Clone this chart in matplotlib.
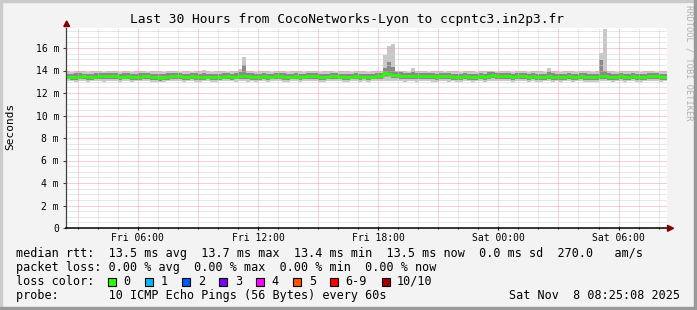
import numpy as np
import matplotlib.pyplot as plt
from matplotlib.patches import Polygon, Rectangle

# Values (one bin = 12 minutes, 150 bins = 30 h)
title = "Last 30 Hours from CocoNetworks-Lyon to ccpntc3.in2p3.fr"
start_hour = 2 + 25 / 60 + 8 / 3600   # Fri 02:25:08
bin_hours = 0.2

median_ms = [
    13.45, 13.45, 13.42, 13.45, 13.48, 13.45, 13.42, 13.45, 13.50, 13.52,
    13.52, 13.50, 13.48, 13.45, 13.45, 13.48, 13.45, 13.42, 13.45, 13.48,
    13.48, 13.45, 13.40, 13.35, 13.42, 13.45, 13.48, 13.50, 13.48, 13.45,
    13.45, 13.48, 13.45, 13.42, 13.45, 13.45, 13.42, 13.40, 13.45, 13.45,
    13.48, 13.45, 13.45, 13.50, 13.55, 13.48, 13.45, 13.42, 13.45, 13.48,
    13.45, 13.45, 13.48, 13.50, 13.45, 13.42, 13.45, 13.48, 13.45, 13.45,
    13.48, 13.50, 13.48, 13.45, 13.42, 13.45, 13.48, 13.50, 13.45, 13.45,
    13.42, 13.45, 13.48, 13.45, 13.45, 13.42, 13.45, 13.48, 13.50, 13.75,
    13.70, 13.62, 13.58, 13.55, 13.55, 13.52, 13.50, 13.50, 13.48, 13.48,
    13.50, 13.48, 13.45, 13.48, 13.50, 13.48, 13.45, 13.42, 13.45, 13.48,
    13.45, 13.42, 13.45, 13.48, 13.40, 13.55, 13.60, 13.52, 13.55, 13.50,
    13.48, 13.45, 13.48, 13.50, 13.48, 13.45, 13.48, 13.45, 13.42, 13.45,
    13.48, 13.45, 13.45, 13.42, 13.45, 13.48, 13.45, 13.45, 13.48, 13.45,
    13.42, 13.40, 13.45, 13.48, 13.50, 13.45, 13.42, 13.45, 13.48, 13.45,
    13.45, 13.48, 13.45, 13.42, 13.45, 13.48, 13.50, 13.48, 13.45, 13.45,
]

# outer smoke (slowest / fastest ping of each bin)
smoke_hi = [
    13.92, 13.90, 13.92, 13.95, 13.92, 13.90, 13.92, 13.95, 13.92, 13.90,
    13.92, 13.95, 13.92, 13.90, 13.98, 13.92, 13.90, 13.92, 13.95, 13.92,
    13.90, 13.92, 13.95, 13.92, 13.90, 13.92, 13.92, 13.95, 13.90, 13.92,
    13.92, 13.90, 13.95, 13.92, 14.05, 13.92, 13.90, 13.92, 13.95, 13.92,
    13.90, 13.92, 13.95, 14.10, 15.20, 13.95, 13.92, 13.90, 13.92, 13.95,
    13.92, 13.90, 13.92, 13.95, 13.92, 13.90, 13.92, 13.95, 13.92, 13.90,
    13.92, 13.95, 13.92, 13.90, 13.92, 13.95, 13.92, 13.90, 13.92, 13.95,
    13.92, 13.90, 13.92, 13.95, 13.92, 13.90, 13.92, 13.98, 13.95, 15.40,
    16.20, 16.35, 14.00, 13.95, 13.92, 13.90, 14.25, 13.92, 13.95, 13.92,
    13.90, 13.92, 13.95, 13.92, 13.90, 13.92, 13.95, 13.92, 13.90, 13.92,
    13.95, 13.92, 13.90, 13.92, 13.95, 13.98, 13.92, 13.90, 13.92, 13.95,
    13.92, 13.90, 13.92, 13.95, 13.92, 13.90, 13.92, 13.95, 13.92, 13.90,
    14.25, 13.95, 13.92, 13.90, 13.92, 13.95, 13.92, 13.90, 13.92, 13.95,
    13.92, 13.90, 13.92, 15.60, 17.70, 13.95, 13.92, 13.90, 13.92, 13.95,
    13.92, 13.98, 13.92, 13.90, 13.92, 13.95, 13.92, 13.90, 13.92, 13.92,
]
smoke_lo = [
    13.05, 13.08, 13.02, 13.05, 13.05, 13.00, 13.05, 13.08, 13.05, 13.02,
    13.05, 13.05, 13.08, 13.02, 13.05, 13.05, 13.00, 13.05, 13.05, 13.08,
    13.05, 13.02, 13.00, 12.98, 13.02, 13.05, 13.05, 13.08, 13.05, 13.02,
    13.05, 13.05, 13.02, 13.00, 13.05, 13.05, 13.02, 13.00, 13.05, 13.05,
    13.08, 13.05, 13.02, 13.05, 13.05, 13.02, 13.05, 13.00, 13.05, 13.05,
    13.02, 13.05, 13.08, 13.05, 13.02, 13.00, 13.05, 13.05, 13.02, 13.05,
    13.05, 13.08, 13.05, 13.02, 13.00, 13.05, 13.05, 13.08, 13.05, 13.02,
    13.00, 13.05, 13.05, 13.02, 13.05, 13.00, 13.05, 13.05, 13.08, 13.10,
    13.10, 13.08, 13.05, 13.05, 13.02, 13.05, 13.05, 13.02, 13.05, 13.05,
    13.05, 13.02, 13.00, 13.05, 13.05, 13.02, 13.05, 13.00, 13.02, 13.05,
    13.05, 13.02, 13.05, 13.05, 12.98, 13.05, 13.08, 13.05, 13.05, 13.05,
    13.05, 13.02, 13.05, 13.08, 13.05, 13.02, 13.05, 13.02, 13.00, 13.05,
    13.05, 13.02, 13.05, 13.00, 13.05, 13.05, 13.02, 13.05, 13.05, 13.02,
    13.00, 12.98, 13.02, 13.05, 13.08, 13.05, 13.00, 13.05, 13.05, 13.02,
    13.05, 13.05, 13.02, 13.00, 13.05, 13.05, 13.08, 13.05, 13.02, 13.05,
]

# inner (denser) smoke
core_hi = [
    13.72, 13.70, 13.75, 13.78, 13.72, 13.70, 13.72, 13.75, 13.78, 13.80,
    13.78, 13.80, 13.75, 13.72, 13.78, 13.75, 13.72, 13.70, 13.75, 13.78,
    13.75, 13.72, 13.70, 13.65, 13.72, 13.75, 13.78, 13.80, 13.75, 13.72,
    13.72, 13.75, 13.78, 13.72, 13.80, 13.72, 13.70, 13.68, 13.72, 13.75,
    13.78, 13.72, 13.75, 13.85, 14.50, 13.80, 13.75, 13.70, 13.72, 13.78,
    13.72, 13.70, 13.75, 13.80, 13.75, 13.70, 13.72, 13.78, 13.72, 13.70,
    13.75, 13.80, 13.78, 13.72, 13.70, 13.72, 13.78, 13.80, 13.72, 13.72,
    13.70, 13.72, 13.78, 13.72, 13.72, 13.70, 13.72, 13.80, 13.82, 14.20,
    14.80, 14.30, 13.90, 13.85, 13.82, 13.80, 13.85, 13.78, 13.78, 13.75,
    13.78, 13.75, 13.72, 13.78, 13.80, 13.75, 13.72, 13.70, 13.72, 13.78,
    13.72, 13.70, 13.72, 13.78, 13.70, 13.85, 13.88, 13.80, 13.82, 13.78,
    13.75, 13.72, 13.78, 13.80, 13.75, 13.72, 13.78, 13.72, 13.70, 13.72,
    13.85, 13.75, 13.72, 13.70, 13.72, 13.78, 13.72, 13.72, 13.78, 13.75,
    13.70, 13.68, 13.72, 14.90, 14.00, 13.75, 13.70, 13.72, 13.78, 13.72,
    13.72, 13.78, 13.72, 13.70, 13.72, 13.78, 13.80, 13.78, 13.72, 13.72,
]
core_lo = [
    13.22, 13.20, 13.18, 13.22, 13.25, 13.20, 13.18, 13.22, 13.25, 13.28,
    13.28, 13.25, 13.22, 13.20, 13.22, 13.25, 13.20, 13.18, 13.20, 13.25,
    13.22, 13.20, 13.15, 13.10, 13.18, 13.20, 13.25, 13.28, 13.22, 13.20,
    13.20, 13.22, 13.20, 13.18, 13.20, 13.22, 13.18, 13.15, 13.20, 13.22,
    13.25, 13.20, 13.22, 13.25, 13.28, 13.22, 13.20, 13.18, 13.20, 13.25,
    13.20, 13.22, 13.25, 13.25, 13.20, 13.18, 13.22, 13.25, 13.20, 13.22,
    13.25, 13.28, 13.25, 13.20, 13.18, 13.22, 13.25, 13.28, 13.22, 13.20,
    13.18, 13.22, 13.25, 13.20, 13.22, 13.18, 13.22, 13.25, 13.28, 13.40,
    13.38, 13.32, 13.30, 13.28, 13.28, 13.25, 13.25, 13.22, 13.22, 13.22,
    13.25, 13.22, 13.20, 13.22, 13.25, 13.22, 13.20, 13.18, 13.20, 13.22,
    13.20, 13.18, 13.20, 13.22, 13.12, 13.28, 13.32, 13.25, 13.28, 13.25,
    13.22, 13.20, 13.22, 13.25, 13.22, 13.20, 13.22, 13.20, 13.18, 13.20,
    13.22, 13.20, 13.20, 13.18, 13.20, 13.22, 13.20, 13.20, 13.22, 13.20,
    13.18, 13.15, 13.20, 13.22, 13.25, 13.20, 13.18, 13.20, 13.22, 13.20,
    13.20, 13.22, 13.20, 13.18, 13.20, 13.22, 13.25, 13.22, 13.20, 13.20,
]

x_tick_hours = [6, 12, 18, 24, 30]
x_tick_labels = ["Fri 06:00", "Fri 12:00", "Fri 18:00", "Sat 00:00", "Sat 06:00"]
y_ticks = [0, 2, 4, 6, 8, 10, 12, 14, 16]
y_tick_labels = ["0", "2 m", "4 m", "6 m", "8 m", "10 m", "12 m", "14 m", "16 m"]

loss_labels = ["0", "1", "2", "3", "4", "5", "6-9", "10/10"]
loss_colors = ["#26ff00", "#00b8ff", "#0059ff", "#7e00ff", "#ff00ff", "#ff5500", "#ff0000", "#a10000"]

rtt_line = "median rtt:  13.5 ms avg  13.7 ms max  13.4 ms min  13.5 ms now  0.0 ms sd  270.0   am/s"
loss_line = "packet loss: 0.00 % avg  0.00 % max  0.00 % min  0.00 % now"
probe_line = "probe:       10 ICMP Echo Pings (56 Bytes) every 60s"
stamp = "Sat Nov  8 08:25:08 2025"

plt.rcParams['font.family'] = ['DejaVu Sans Mono']

W, H = 697, 310
fig = plt.figure(figsize=(W / 100, H / 100), dpi=100, facecolor='#f3f3f3')


def fx(px):
    return px / W


def fy(py):
    return 1 - py / H


# 3d-ish frame around the canvas
fig.patches.append(Rectangle((0, fy(2)), 1, 2 / H, transform=fig.transFigure, color='#cbcbcb'))
fig.patches.append(Rectangle((0, 0), 2 / W, 1, transform=fig.transFigure, color='#cbcbcb'))
fig.patches.append(Rectangle((0, 0), 1, 3 / H, transform=fig.transFigure, color='#999999'))
fig.patches.append(Rectangle((fx(W - 3), 0), 3 / W, 1, transform=fig.transFigure, color='#999999'))

ax_left, ax_right, ax_top, ax_bottom = 66, 667, 27.75, 228
ax = fig.add_axes([fx(ax_left), fy(ax_bottom), (ax_right - ax_left) / W, (ax_bottom - ax_top) / H])
ax.set_facecolor('white')

edges = start_hour + bin_hours * np.arange(len(median_ms) + 1)


def stepped(vals):
    vals = np.asarray(vals)
    return np.append(vals, vals[-1])


ax.fill_between(edges, stepped(smoke_lo), stepped(smoke_hi), step='post', color='#c8c8c8', lw=0, zorder=2)
ax.fill_between(edges, stepped(core_lo), stepped(core_hi), step='post', color='#8a8a8a', lw=0, zorder=2)

# grid: minor dotted gray, major dotted red
ymax = 17.8
for h in range(3, 33):
    if start_hour < h < start_hour + 30:
        col = '#f2a0a0' if h % 3 == 0 else '#d0d0d0'
        ax.axvline(h, color=col, lw=0.72, ls=(0, (1, 1)), zorder=3)
for v in np.arange(0.5, ymax, 0.5):
    col = '#f2a0a0' if v % 2 == 0 else '#d0d0d0'
    ax.axhline(v, color=col, lw=0.72, ls=(0, (1, 1)), zorder=3)

ax.step(edges, stepped(median_ms), where='post', color='#26ff00', lw=1.9, zorder=4)

ax.set_xlim(start_hour, start_hour + 30)
ax.set_ylim(0, ymax)

for side in ['top', 'right']:
    ax.spines[side].set_visible(False)
ax.spines['left'].set_color('#404040')
ax.spines['bottom'].set_color('#000000')
ax.spines['left'].set_linewidth(0.9)
ax.spines['bottom'].set_linewidth(1.1)
ax.spines['left'].set_zorder(5)
ax.spines['bottom'].set_zorder(5)

ax.set_yticks(y_ticks, y_tick_labels)
ax.set_xticks(x_tick_hours, x_tick_labels)
ax.set_xticks(np.arange(3, 33), minor=True)
ax.tick_params(axis='y', length=2.5, width=0.8, pad=2.5, labelsize=7, color='#404040')
ax.tick_params(axis='x', which='major', length=3, width=0.8, pad=2, labelsize=7, direction='inout')
ax.tick_params(axis='x', which='minor', length=2, width=0.8, direction='inout')

fig.text(fx(10), fy(126), "Seconds", rotation=90, ha='center', va='center', fontsize=8)

# arrows at the axis ends
fig.patches.append(Polygon([(fx(63.8), fy(26.5)), (fx(69.6), fy(26.5)), (fx(66.7), fy(21))],
                           closed=True, transform=fig.transFigure, color='#7f0000'))
fig.patches.append(Polygon([(fx(667.5), fy(225.3)), (fx(667.5), fy(231.3)), (fx(673.5), fy(228.3))],
                           closed=True, transform=fig.transFigure, color='#7f0000'))

fig.text(fx(347), fy(19), title, ha='center', va='center', fontsize=9.3)
fig.text(fx(688.5), fy(5), "RRDTOOL / TOBI OETIKER", rotation=-90, ha='center', va='top',
         fontsize=6.2, color='#b0b0b0')

# legend block
rows_y = [257.5, 271.3, 285.0, 299.0]
fig.text(fx(16), fy(rows_y[0]), rtt_line, fontsize=8.5, va='baseline')
fig.text(fx(16), fy(rows_y[1]), loss_line, fontsize=8.5, va='baseline')
fig.text(fx(16), fy(rows_y[2]), "loss color:", fontsize=8.5, va='baseline')
box_x = 108.4
for lab, col in zip(loss_labels, loss_colors):
    fig.patches.append(Rectangle((fx(box_x), fy(285.5)), 8 / W, 8 / H, transform=fig.transFigure,
                                 facecolor=col, edgecolor='black', lw=0.8))
    fig.text(fx(box_x + 15.3), fy(rows_y[2]), lab, fontsize=8.5, va='baseline')
    box_x += 37 + 7.11 * (len(lab) - 1)
fig.text(fx(16), fy(rows_y[3]), probe_line, fontsize=8.5, va='baseline')
fig.text(fx(680), fy(rows_y[3]), stamp, fontsize=8.5, va='baseline', ha='right')

fig.savefig('out.png', dpi=100, facecolor=fig.get_facecolor())
